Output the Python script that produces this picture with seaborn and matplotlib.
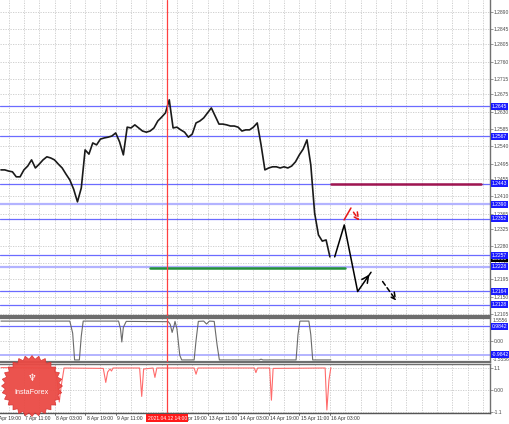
import matplotlib
matplotlib.use("Agg")
import matplotlib.pyplot as plt
import matplotlib.transforms as mtransforms
import numpy as np
import seaborn as sns
from matplotlib.patches import Polygon

# --------------------------------------------------
# Data (x = hourly bar number, 0 = 6 Apr 23:00)
# --------------------------------------------------
bar_idx = list(range(0, 174, 2))
close = [
    1.2479, 1.2479, 1.2476, 1.2474, 1.2461, 1.2461, 1.2479, 1.2489, 1.2505, 1.2484,
    1.2494, 1.2505, 1.2513, 1.2510, 1.2505, 1.2494, 1.2484, 1.2468, 1.2453, 1.2429,
    1.2396, 1.2432, 1.2531, 1.2520, 1.2549, 1.2544, 1.2559, 1.2562, 1.2564, 1.2567,
    1.2575, 1.2552, 1.2518, 1.2590, 1.2588, 1.2596, 1.2588, 1.2580, 1.2577, 1.2580,
    1.2588, 1.2606, 1.2616, 1.2627, 1.2661, 1.2588, 1.2590, 1.2583, 1.2577, 1.2564,
    1.2572, 1.2601, 1.2606, 1.2614, 1.2627, 1.2640, 1.2619, 1.2598, 1.2598, 1.2596,
    1.2593, 1.2593, 1.2590, 1.2580, 1.2583, 1.2583, 1.2590, 1.2601, 1.2544, 1.2479,
    1.2484, 1.2487, 1.2487, 1.2484, 1.2487, 1.2484, 1.2489, 1.2500, 1.2518, 1.2533,
    1.2557, 1.2492, 1.2367, 1.2310, 1.2294, 1.2297, 1.2253,
]

level_prices = [1.2645, 1.2567, 1.2443, 1.2390, 1.2352, 1.2257, 1.2228, 1.2164, 1.2128]
level_light = [False, False, False, True, False, False, True, False, False]
grid_prices = [1.2890, 1.2845, 1.2805, 1.2760, 1.2715, 1.2675, 1.2630, 1.2585, 1.2540,
               1.2495, 1.2455, 1.2410, 1.2365, 1.2325, 1.2280, 1.2236, 1.2195, 1.2150, 1.2105]
current_price = 1.2253

resist_x = [172.5, 251]
resist_y = 1.2443
support_x = [78, 180]
support_y = 1.2225

# forecast arrows
path_x = [174.5, 179.5, 186.5, 193.5]
path_y = [1.2253, 1.2336, 1.2163, 1.2213]
dash_x = [198.7, 207.6]
dash_y = [1.2195, 1.2133]
alt_x = [179.4, 183.0]
alt_y = [1.2349, 1.2380]
alt_dash_x = [183.5, 188.2]
alt_dash_y = [1.2375, 1.2341]

# oscillator 1 (grey)
osc_x = [0, 36, 37.5, 38.5, 41, 42, 43, 61.5, 62.5, 63.2, 64, 65.5, 87.5, 88.5, 89.5, 90.5,
         91, 92, 93.5, 94.5, 101, 102, 103.2, 106, 107.5, 109, 111.5, 113, 114.2, 135, 136,
         137, 154.3, 155.3, 156.3, 161, 162, 163, 172.5]
osc_y = [1.32, 1.32, 0.5, -1.32, -1.32, 0.3, 1.32, 1.32, 0.8, -0.1, 0.9, 1.3, 1.28, 1.1, 0.55,
         1.0, 1.3, 0.8, -1.0, -1.32, -1.32, 0.0, 1.3, 1.32, 1.12, 1.32, 1.3, -0.3, -1.32, -1.32,
         -1.27, -1.32, -1.32, 0.4, 1.32, 1.32, 0.4, -1.32, -1.32]
osc_levels = [0.9842, -0.9842]

# oscillator 2 (red)
red_x = [0, 28, 29.5, 30.5, 31.5, 33, 53.5, 54.8, 55.8, 57, 57.8, 58.6, 72.5, 73.6, 74.6,
         79.5, 80.5, 81.5, 101, 102, 103, 132.5, 133.3, 134.2, 140.5, 141.4, 142.3, 169.5,
         170.4, 171.5, 172.5]
red_y = [1.12, 1.1, 0.4, -0.6, 0.2, 1.1, 1.08, 0.38, 0.9, 1.05, 0.95, 1.1, 1.1, -0.32, 1.05,
         1.1, 0.63, 1.1, 1.1, 0.79, 1.1, 1.1, 0.87, 1.1, 1.1, -0.51, 1.08, 1.1, -1.0, 0.5, 1.12]

time_ticks = [-4, 12, 28, 44, 60, 76, 92, 108, 124, 140, 156, 172]
time_labels = ["6 Apr 19:00", "7 Apr 11:00", "8 Apr 03:00", "8 Apr 19:00", "9 Apr 11:00",
               "12 Apr 03:00", "12 Apr 19:00", "13 Apr 11:00", "14 Apr 03:00",
               "14 Apr 19:00", "15 Apr 11:00", "16 Apr 03:00"]
cursor_idx = 87
cursor_label = "2021.04.12 14:00"

# --------------------------------------------------
# Figure
# --------------------------------------------------
sns.set_theme(style="white")
plt.rcParams["font.family"] = ["Liberation Sans", "DejaVu Sans"]

W, H = 510, 424
fig = plt.figure(figsize=(W / 100, H / 100), dpi=100)
ax_main = fig.add_axes([0, 1 - 316 / H, 490 / W, 316 / H])
ax_osc = fig.add_axes([0, 1 - 362 / H, 490 / W, 44 / H])
ax_red = fig.add_axes([0, 1 - 413 / H, 490 / W, 49 / H])

XMIN, XMAX = -0.5, 255.7
FS = 3.6
TFS = 3.6
GRID = "#c9c9c9"
BLUE = "#6b6bff"
LIGHT_BLUE = "#b3b3ff"

for ax in (ax_main, ax_osc, ax_red):
    ax.set_xlim(XMIN, XMAX)
    ax.set_xticks(np.arange(4, 256, 8))
    ax.set_xticklabels([])
    ax.tick_params(axis="x", length=0)
    ax.grid(axis="x", color=GRID, linestyle=(0, (1.5, 1.5)), lw=0.6)
    ax.spines["left"].set_visible(False)
    ax.spines["right"].set_color("#707070")
    ax.spines["right"].set_linewidth(1.0)
    ax.yaxis.tick_right()
    ax.tick_params(axis="y", length=2, width=0.5, color="#707070", labelsize=FS,
                   labelcolor="#4a4a4a", pad=0.8)
    ax.axvline(cursor_idx, color="#ff4040", lw=0.9, zorder=5)

# main panel
ax_main.set_ylim(1.20994, 1.29204)
ax_main.set_yticks(grid_prices)
ax_main.set_yticklabels([f"{p:.4f}" for p in grid_prices])
ax_main.grid(axis="y", color=GRID, linestyle=(0, (1.5, 1.5)), lw=0.6)
ax_main.spines["top"].set_visible(False)
ax_main.spines["bottom"].set_color("#6e6e6e")
ax_main.spines["bottom"].set_linewidth(1.6)

for p, light in zip(level_prices, level_light):
    ax_main.axhline(p, color=LIGHT_BLUE if light else BLUE, lw=1.6 if light else 0.9, zorder=2)

sns.lineplot(x=bar_idx, y=close, ax=ax_main, color="#1a1a1a", lw=1.2, zorder=4)

ax_main.plot(resist_x, [resist_y, resist_y], color="#a0154f", lw=1.8, zorder=4)
ax_main.plot(support_x, [support_y, support_y], color="#23913c", lw=1.8, zorder=4)

ax_main.plot(path_x, path_y, color="black", lw=1.1, zorder=6)
ax_main.annotate("", xy=(path_x[-1], path_y[-1]), xytext=(path_x[-2] + 4, path_y[-2] + 0.0029),
                 arrowprops=dict(arrowstyle="->", color="black", lw=1.1), zorder=6)
ax_main.annotate("", xy=(dash_x[1], dash_y[1]), xytext=(dash_x[0], dash_y[0]),
                 arrowprops=dict(arrowstyle="->", color="black", lw=1.1, linestyle=(0, (3, 2))),
                 zorder=6)
ax_main.plot(alt_x, alt_y, color="#e81818", lw=1.1, zorder=6)
ax_main.annotate("", xy=(alt_dash_x[1], alt_dash_y[1]), xytext=(alt_dash_x[0], alt_dash_y[0]),
                 arrowprops=dict(arrowstyle="->", color="#e81818", lw=1.1, linestyle=(0, (3, 2))),
                 zorder=6)

# price boxes on the right scale
tr_main = mtransforms.blended_transform_factory(ax_main.transAxes, ax_main.transData)
ax_main.text(1.004, current_price - 0.0004, f"{current_price:.4f}", transform=tr_main,
             fontsize=FS, color="white", va="center", ha="left", zorder=10, clip_on=False,
             bbox=dict(boxstyle="square,pad=0.2", fc="black", ec="none"))
for p in level_prices:
    ax_main.text(1.004, p, f"{p:.4f}", transform=tr_main, fontsize=FS, color="white",
                 va="center", ha="left", zorder=11, clip_on=False,
                 bbox=dict(boxstyle="square,pad=0.2", fc="#1a1aff", ec="none"))

# oscillator 1
ax_osc.set_ylim(-1.46, 1.53)
ax_osc.set_yticks([0])
ax_osc.set_yticklabels(["0.00"])
ax_osc.grid(axis="y", color=GRID, linestyle=(0, (1.5, 1.5)), lw=0.6)
for s in ("top", "bottom"):
    ax_osc.spines[s].set_color("#6e6e6e")
    ax_osc.spines[s].set_linewidth(1.6)
ax_osc.axhline(osc_levels[0], color=BLUE, lw=0.9)
ax_osc.axhline(osc_levels[1], color=LIGHT_BLUE, lw=1.4)
sns.lineplot(x=osc_x, y=osc_y, ax=ax_osc, color="#6a6a6a", lw=0.8, zorder=4)
tr_osc = mtransforms.blended_transform_factory(ax_osc.transAxes, ax_osc.transData)
ax_osc.text(1.006, 1.37, "1.5556", transform=tr_osc, fontsize=FS, color="#4a4a4a",
            va="center", ha="left", clip_on=False)
ax_osc.text(1.006, -1.3, "-1.5556", transform=tr_osc, fontsize=FS, color="#4a4a4a",
            va="center", ha="left", clip_on=False)
for v in osc_levels:
    ax_osc.text(1.004, v, f"{v:.4f}", transform=tr_osc, fontsize=FS, color="white",
                va="center", ha="left", clip_on=False,
                bbox=dict(boxstyle="square,pad=0.2", fc="#1a1aff", ec="none"))

# oscillator 2
ax_red.set_ylim(-1.15, 1.30)
ax_red.set_yticks([1.1, 0, -1.1])
ax_red.set_yticklabels(["1.1", "0.00", "-1.1"])
ax_red.grid(axis="y", color=GRID, linestyle=(0, (1.5, 1.5)), lw=0.6)
ax_red.spines["top"].set_color("#6e6e6e")
ax_red.spines["top"].set_linewidth(1.0)
ax_red.spines["bottom"].set_color("#555555")
ax_red.spines["bottom"].set_linewidth(1.0)
sns.lineplot(x=red_x, y=red_y, ax=ax_red, color="#ff6b6b", lw=0.8, zorder=4)

# time labels under the bottom panel
tr_time = mtransforms.blended_transform_factory(ax_red.transData, ax_red.transAxes)
for t, lab in zip(time_ticks, time_labels):
    ax_red.plot([t, t], [0, -0.04], color="#555555", lw=0.6, transform=tr_time, clip_on=False)
    ax_red.text(t + 0.8, -0.06, lab, transform=tr_time, fontsize=TFS, color="#333333",
                ha="left", va="top", clip_on=False)
ax_red.text(cursor_idx, -0.06, cursor_label, transform=tr_time, fontsize=TFS, color="white",
            ha="center", va="top", clip_on=False, zorder=12,
            bbox=dict(boxstyle="square,pad=0.3", fc="#ff1a1a", ec="none"))

# InstaForex badge
ax_logo = fig.add_axes([0 / W, 1 - 418 / H, 64 / W, 64 / H])
ax_logo.set_xlim(-1.05, 1.05)
ax_logo.set_ylim(-1.05, 1.05)
ax_logo.axis("off")
ang = np.linspace(0, 2 * np.pi, 57)[:-1]
rad = np.where(np.arange(56) % 2 == 0, 1.0, 0.88)
ax_logo.add_patch(Polygon(np.column_stack([rad * np.cos(ang), rad * np.sin(ang)]),
                          closed=True, fc="#ea4a44", ec="#d83030", lw=0.5, alpha=0.95))
ax_logo.text(0, 0.25, "♆", color="white", fontsize=7, ha="center", va="center",
             family=["DejaVu Sans"])
ax_logo.text(0, -0.2, "InstaForex", color="white", fontsize=5.2, ha="center", va="center")

fig.savefig("out.png", dpi=100)
plt.close(fig)
